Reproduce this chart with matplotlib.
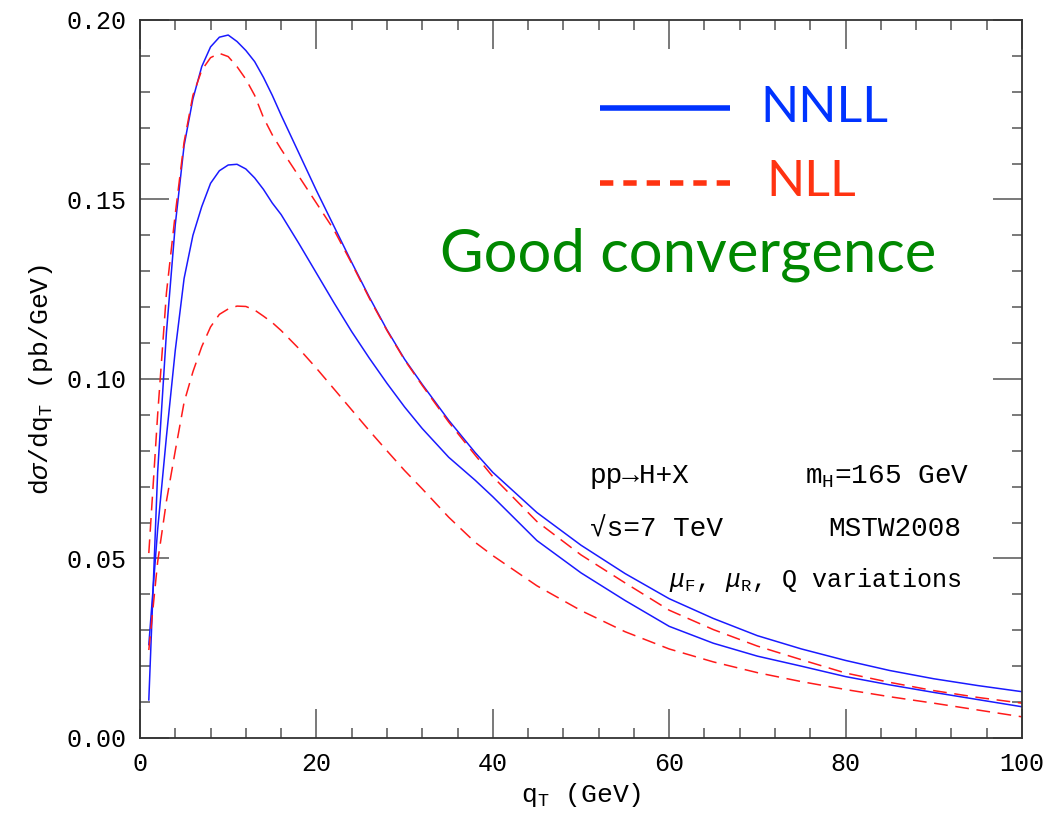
"""
q_T spectrum of Higgs production, NNLL vs NLL scale bands
"""

import numpy as np
import matplotlib
matplotlib.use("Agg")
import matplotlib.pyplot as plt
from matplotlib.ticker import MultipleLocator

# grid of q_T values (GeV)
qt = [1, 2, 3, 4, 5, 6, 7, 8, 9, 10, 11, 12, 13, 14, 15, 16, 18, 20, 22, 24,
      26, 28, 30, 32, 35, 38, 40, 45, 50, 55, 60, 65, 70, 75, 80, 85, 90, 95, 100]

# NNLL band edges (pb/GeV)
nnll_hi = [0.0106, 0.074, 0.113, 0.143, 0.165, 0.178, 0.187, 0.1925, 0.1952, 0.1958,
           0.194, 0.1915, 0.1884, 0.184, 0.179, 0.1735, 0.163, 0.1525, 0.1425, 0.1325,
           0.1228, 0.1137, 0.1055, 0.0985, 0.0885, 0.0795, 0.0740, 0.0628, 0.0537, 0.0458,
           0.0388, 0.0333, 0.0285, 0.0248, 0.0216, 0.0188, 0.0165, 0.0146, 0.0129]
nnll_lo = [0.026, 0.058, 0.084, 0.108, 0.128, 0.140, 0.148, 0.1545, 0.158, 0.1596,
           0.1598, 0.1585, 0.156, 0.1528, 0.149, 0.1458, 0.1378, 0.1295, 0.1212, 0.1132,
           0.1058, 0.0988, 0.0922, 0.0862, 0.0782, 0.0718, 0.0672, 0.0550, 0.0460, 0.0383,
           0.0311, 0.0264, 0.0228, 0.0200, 0.0171, 0.0148, 0.0127, 0.0107, 0.0087]

# NLL band edges (pb/GeV)
nll_hi = [0.0515, 0.090, 0.124, 0.146, 0.166, 0.179, 0.186, 0.1895, 0.1907, 0.1898,
          0.187, 0.1835, 0.179, 0.1728, 0.168, 0.164, 0.1565, 0.149, 0.1415, 0.1322,
          0.1225, 0.1135, 0.1053, 0.0982, 0.0880, 0.0788, 0.0728, 0.0603, 0.0510, 0.0432,
          0.0356, 0.0302, 0.0256, 0.0218, 0.0181, 0.0155, 0.0132, 0.0113, 0.0097]
nll_lo = [0.0245, 0.049, 0.066, 0.080, 0.0935, 0.102, 0.109, 0.1145, 0.118, 0.1195,
          0.1203, 0.1202, 0.1192, 0.1175, 0.1157, 0.1135, 0.1085, 0.1030, 0.0972, 0.0914,
          0.0856, 0.0800, 0.0745, 0.0694, 0.0615, 0.0545, 0.0508, 0.0424, 0.0355, 0.0296,
          0.0248, 0.0212, 0.0182, 0.0157, 0.0135, 0.0115, 0.0097, 0.0078, 0.0059]

plt.rcParams["font.family"] = ["Liberation Mono", "DejaVu Sans"]
plt.rcParams["mathtext.fontset"] = "custom"
plt.rcParams["mathtext.rm"] = "Liberation Mono"
plt.rcParams["mathtext.it"] = "Liberation Mono:italic"
plt.rcParams["mathtext.bf"] = "Liberation Mono:bold"

blue = "#1a1aff"
red = "#ff1a1a"

fig = plt.figure(figsize=(10.51, 8.18), dpi=100)
fig.set_facecolor("white")
ax = fig.add_axes([0.1332, 0.0978, 0.8392, 0.8778])

ax.plot(qt, nnll_hi, color=blue, lw=1.1)
ax.plot(qt, nnll_lo, color=blue, lw=1.1)
ax.plot(qt, nll_hi, color=red, lw=1.1, dashes=(9, 5))
ax.plot(qt, nll_lo, color=red, lw=1.1, dashes=(9, 5))

ax.set_xlim(0, 100)
ax.set_ylim(0, 0.20)
ax.xaxis.set_major_locator(MultipleLocator(20))
ax.xaxis.set_minor_locator(MultipleLocator(4))
ax.yaxis.set_major_locator(MultipleLocator(0.05))
ax.yaxis.set_minor_locator(MultipleLocator(0.01))
ax.yaxis.set_major_formatter(lambda v, p: "%.2f" % v)
ax.tick_params(which="both", direction="in", top=True, right=True,
               color="#555555", width=1.1, labelsize=18, pad=10)
ax.tick_params(which="major", length=21)
ax.tick_params(which="minor", length=7)
for s in ax.spines.values():
    s.set_linewidth(1.3)
    s.set_color("#333333")

ax.set_xlabel(r"q$_\mathrm{T}$ (GeV)", fontsize=19, labelpad=4)
ax.set_ylabel(r"d$\sigma$/dq$_\mathrm{T}$ (pb/GeV)", fontsize=19, labelpad=8)

# hand-drawn legend
ax.plot([0.5215, 0.669], [0.8774, 0.8774], transform=ax.transAxes,
        color="#0033ff", lw=4, solid_capstyle="butt")
ax.plot([0.5215, 0.669], [0.773, 0.773], transform=ax.transAxes,
        color="#ff3311", lw=4, dashes=(2.4, 1.8))
ax.text(0.703, 0.858, "NNLL", transform=ax.transAxes, color="#0033ff",
        fontsize=36, family="Lato", va="baseline")
ax.text(0.710, 0.755, "NLL", transform=ax.transAxes, color="#ff3311",
        fontsize=36, family="Lato", va="baseline")
ax.text(0.340, 0.650, "Good convergence", transform=ax.transAxes,
        color="#008800", fontsize=43, family="Lato", va="baseline")

# process info
info = dict(transform=ax.transAxes, fontsize=20, va="baseline")
ax.text(0.510, 0.355, "pp→H+X", **info)
ax.text(0.754, 0.355, r"m$_\mathrm{H}$=165 GeV", **info)
ax.text(0.510, 0.281, "√s=7 TeV", **info)
ax.text(0.780, 0.281, "MSTW2008", **info)
ax.text(0.600, 0.210, r"$\mu_\mathrm{F}$, $\mu_\mathrm{R}$, Q variations",
        transform=ax.transAxes, fontsize=18, va="baseline")

fig.savefig("out.png", dpi=100)
